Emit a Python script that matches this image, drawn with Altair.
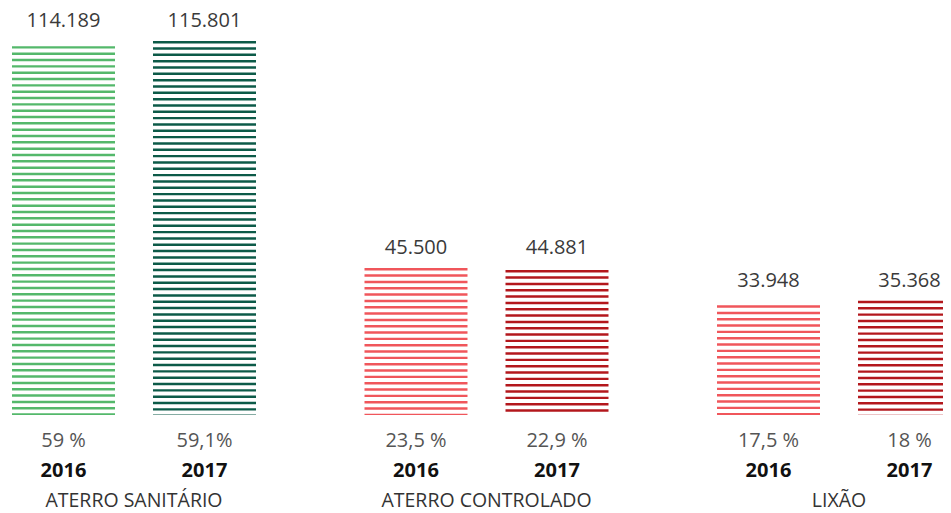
import altair as alt
import pandas as pd

categories = ["ATERRO SANITÁRIO", "ATERRO SANITÁRIO", "ATERRO CONTROLADO", "ATERRO CONTROLADO", "LIXÃO", "LIXÃO"]
group_index = [0, 0, 1, 1, 2, 2]
years = ["2016", "2017", "2016", "2017", "2016", "2017"]
year_index = [0, 1, 0, 1, 0, 1]
values = [114189, 115801, 45500, 44881, 33948, 35368]
value_labels = ["114.189", "115.801", "45.500", "44.881", "33.948", "35.368"]
pct_labels = ["59 %", "59,1%", "23,5 %", "22,9 %", "17,5 %", "18 %"]
colors = ["#54b86b", "#0c5a48", "#f0565b", "#b3171c", "#f0565b", "#b3171c"]

df = pd.DataFrame({
    "cat": categories, "g": group_index, "year": years, "yi": year_index,
    "value": values, "vlabel": value_labels, "pct": pct_labels, "color": colors,
})

cat_df = df.drop_duplicates("cat")[["cat", "g"]]

STEP = 1960   # stripe period (data units)
THICK = 760   # stripe thickness (data units)

x_scale = alt.Scale(domain=[-0.3936, 6.2376], nice=False, zero=False, padding=0)
y_scale = alt.Scale(domain=[0, 126000], nice=False, padding=0)

base = alt.Chart(df).transform_calculate(pos="datum.g * 2.5 + datum.yi")

stripes = base.transform_calculate(
    offs=f"sequence(0, datum.value, {STEP})"
).transform_flatten(["offs"]).transform_calculate(
    top="datum.value - datum.offs",
    bot=f"max(0, datum.value - datum.offs - {THICK})",
).mark_bar(size=103, clip=True).encode(
    x=alt.X("pos:Q", scale=x_scale, axis=None),
    y=alt.Y("top:Q", scale=y_scale, axis=None),
    y2="bot:Q",
    color=alt.Color("color:N", scale=None),
)

val_text = base.transform_joinaggregate(
    gmax="max(value)", groupby=["g"]
).mark_text(
    dy=-14, fontSize=20, font="Open Sans", color="#3a3a3a", baseline="alphabetic"
).encode(
    x=alt.X("pos:Q", scale=x_scale, axis=None),
    y=alt.Y("gmax:Q", scale=y_scale, axis=None),
    text="vlabel:N",
)

pct_text = base.mark_text(
    dy=32, fontSize=20, font="Open Sans", color="#555555", baseline="alphabetic"
).encode(
    x=alt.X("pos:Q", scale=x_scale, axis=None),
    y=alt.datum(0, scale=y_scale),
    text="pct:N",
)

year_text = base.mark_text(
    dy=62, fontSize=20, font="Open Sans", fontWeight="bold", color="#111111", baseline="alphabetic"
).encode(
    x=alt.X("pos:Q", scale=x_scale, axis=None),
    y=alt.datum(0, scale=y_scale),
    text="year:N",
)

cat_text = alt.Chart(cat_df).transform_calculate(
    pos="datum.g * 2.5 + 0.5"
).mark_text(
    dy=92, fontSize=19.5, font="Open Sans", color="#333333", baseline="alphabetic"
).encode(
    x=alt.X("pos:Q", scale=x_scale, axis=None),
    y=alt.datum(0, scale=y_scale),
    text="cat:N",
)

chart = alt.layer(stripes, val_text, pct_text, year_text, cat_text).properties(
    width=935, height=407,
    padding={"left": 0, "top": 0, "right": 0, "bottom": 96},
    autosize=alt.AutoSizeParams(type="none"),
).configure_view(stroke=None)

chart.save("out.html", embed_options={"renderer": "svg", "actions": False})
